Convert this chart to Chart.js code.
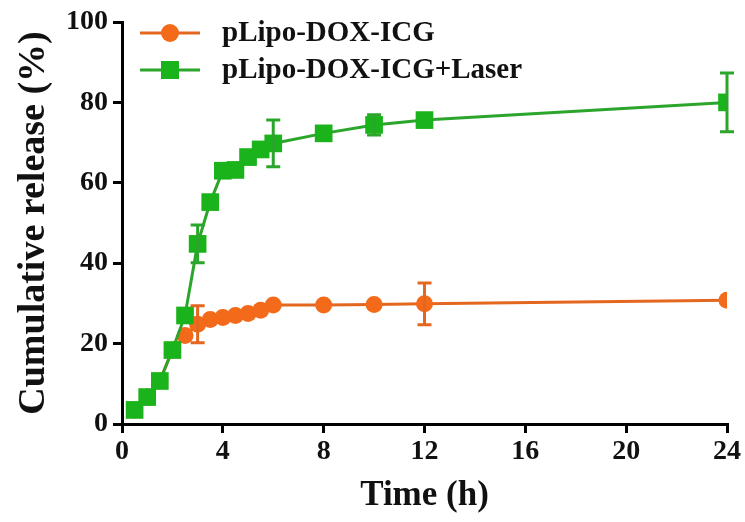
<!DOCTYPE html>
<html>
<head>
<meta charset="utf-8">
<script src="https://cdn.jsdelivr.net/npm/chart.js@4"></script>
<style>
  html, body { margin: 0; padding: 0; background: #fff; }
  #wrap { width: 745px; height: 522px; }
</style>
</head>
<body>
<div id="wrap"><canvas id="releaseChart" width="745" height="522"></canvas></div>
<script>
// time points (h)
var hours = [0.5, 1, 1.5, 2, 2.5, 3, 3.5, 4, 4.5, 5, 5.5, 6, 8, 10, 12, 24];

var seriesNames = ["pLipo-DOX-ICG", "pLipo-DOX-ICG+Laser"];

// cumulative release (%)
var noLaser    = [3.5, 6.7, 10.7, 18.4, 22.0, 24.8, 26.0, 26.5, 27.0, 27.5, 28.3, 29.6, 29.6, 29.7, 29.9, 30.8];
var noLaserErr = [0, 0, 0, 0, 0, 4.6, 0, 0, 0, 0, 0, 0, 0, 0, 5.2, 0];

var laser    = [3.5, 6.7, 10.7, 18.4, 27.0, 44.8, 55.2, 63.0, 63.2, 66.4, 68.3, 69.8, 72.3, 74.4, 75.6, 80.0];
var laserErr = [0, 0, 0, 0, 0, 4.7, 0, 0, 0, 0, 0, 5.8, 0, 2.5, 0, 7.3];

var xTicks = [0, 4, 8, 12, 16, 20, 24];
var yTicks = [0, 20, 40, 60, 80, 100];

var orange = "#f26a1a", orangeLine = "#e4671f";
var green = "#1bb31b", greenLine = "#2ba52b";
var serif = "'Liberation Serif', 'Times New Roman', serif";

function pts(xs, ys) {
    var out = [];
    for (var i = 0; i < xs.length; i++) out.push({ x: xs[i], y: ys[i] });
    return out;
}

// error bars with caps
var errorBars = {
    id: 'errorBars',
    afterDatasetsDraw: function (chart) {
        var ctx = chart.ctx;
        var xs = chart.scales.x, ys = chart.scales.y;
        chart.data.datasets.forEach(function (ds) {
            if (!ds.errors) return;
            ctx.save();
            ctx.strokeStyle = ds.borderColor;
            ctx.lineWidth = 3;
            ds.data.forEach(function (p, i) {
                var e = ds.errors[i];
                if (!e) return;
                var px = xs.getPixelForValue(p.x);
                var top = ys.getPixelForValue(p.y + e);
                var bot = ys.getPixelForValue(p.y - e);
                ctx.beginPath();
                ctx.moveTo(px, top); ctx.lineTo(px, bot);
                ctx.moveTo(px - 7, top); ctx.lineTo(px + 7, top);
                ctx.moveTo(px - 7, bot); ctx.lineTo(px + 7, bot);
                ctx.stroke();
            });
            ctx.restore();
        });
    }
};

// legend: line through marker, like the original figure
var lineLegend = {
    id: 'lineLegend',
    afterDraw: function (chart) {
        var ctx = chart.ctx;
        var area = chart.chartArea;
        var x0 = area.left + 18, y0 = area.top + 11;
        chart.data.datasets.forEach(function (ds, i) {
            var y = y0 + i * 37;
            ctx.save();
            ctx.strokeStyle = ds.borderColor;
            ctx.fillStyle = ds.backgroundColor;
            ctx.lineWidth = 3;
            ctx.beginPath();
            ctx.moveTo(x0, y); ctx.lineTo(x0 + 60, y);
            ctx.stroke();
            if (ds.pointStyle === 'rect') {
                ctx.fillRect(x0 + 21, y - 9, 18, 18);
            } else {
                ctx.beginPath();
                ctx.arc(x0 + 30, y, 9, 0, Math.PI * 2);
                ctx.fill();
            }
            ctx.fillStyle = '#111';
            ctx.font = "bold 29px " + serif;
            ctx.textBaseline = 'middle';
            ctx.fillText(ds.label, x0 + 82, y + 1);
            ctx.restore();
        });
    }
};

new Chart(document.getElementById("releaseChart"), {
    type: 'line',
    data: {
        datasets: [
            {
                label: seriesNames[0],
                data: pts(hours, noLaser),
                errors: noLaserErr,
                borderColor: orangeLine,
                backgroundColor: orange,
                pointBackgroundColor: orange,
                borderWidth: 3,
                pointStyle: 'circle',
                pointRadius: 8.5,
                pointBorderWidth: 0,
                order: 1
            },
            {
                label: seriesNames[1],
                data: pts(hours, laser),
                errors: laserErr,
                borderColor: greenLine,
                backgroundColor: green,
                pointBackgroundColor: green,
                borderWidth: 3,
                pointStyle: 'rect',
                pointRadius: 12.5,
                pointBorderWidth: 0,
                order: 0
            }
        ]
    },
    options: {
        responsive: false,
        animation: false,
        layout: { padding: { top: 22, right: 18, left: 0, bottom: 0 } },
        plugins: {
            legend: { display: false },
            tooltip: { enabled: false }
        },
        scales: {
            x: {
                type: 'linear',
                min: 0, max: 24,
                afterBuildTicks: function (s) { s.ticks = xTicks.map(function (v) { return { value: v }; }); },
                afterFit: function (s) { s.height = 98; },
                border: { display: true, color: '#000', width: 3 },
                grid: { display: true, drawOnChartArea: false, drawTicks: true, tickLength: 9, color: '#000', lineWidth: 3 },
                ticks: { color: '#111', padding: 2, font: { family: serif, size: 28, weight: 'bold' } },
                title: { display: true, text: 'Time (h)', color: '#111', padding: { top: 0, bottom: 5 }, font: { family: serif, size: 35, weight: 'bold' } }
            },
            y: {
                min: 0, max: 100,
                afterBuildTicks: function (s) { s.ticks = yTicks.map(function (v) { return { value: v }; }); },
                afterFit: function (s) { s.width = 122; },
                border: { display: true, color: '#000', width: 3 },
                grid: { display: true, drawOnChartArea: false, drawTicks: true, tickLength: 9, color: '#000', lineWidth: 3 },
                ticks: { color: '#111', padding: 5, font: { family: serif, size: 28, weight: 'bold' } },
                title: { display: true, text: 'Cumulative release (%)', color: '#111', padding: { top: 11, bottom: 0 }, font: { family: serif, size: 38, weight: 'bold' } }
            }
        }
    },
    plugins: [errorBars, lineLegend]
});
</script>
</body>
</html>
